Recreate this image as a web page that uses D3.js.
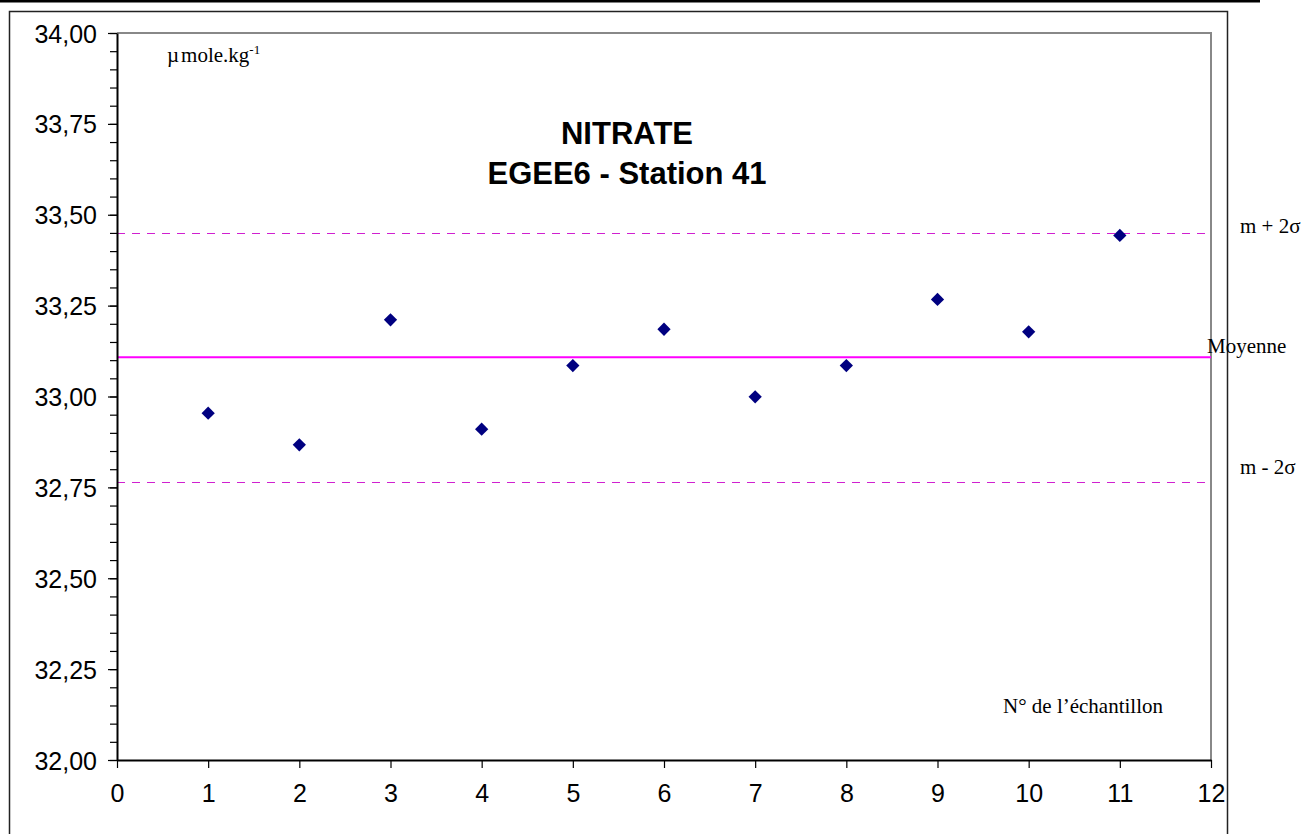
<!DOCTYPE html>
<html>
<head>
<meta charset="utf-8">
<script src="https://cdn.jsdelivr.net/npm/d3@7"></script>
<style>
  body { margin: 0; background: #fff; }
  svg { display: block; }
  .tick-label { font-family: Arial, "Liberation Sans", sans-serif; font-size: 25px; fill: #000; }
  .serif { font-family: "Times New Roman", "Liberation Serif", serif; font-size: 21px; fill: #000; }
</style>
</head>
<body>
<div id="chart"></div>
<script>
// sample numbers and nitrate values (µmole/kg)
const samples = [1, 2, 3, 4, 5, 6, 7, 8, 9, 10, 11];
const nitrate = [32.954, 32.867, 33.211, 32.910, 33.085, 33.185, 32.999, 33.085, 33.267, 33.178, 33.443];
// reference lines
const refValues = [33.450, 33.108, 32.766];
const refLabels = ["m + 2σ", "Moyenne", "m - 2σ"];
const xTicks = [0, 1, 2, 3, 4, 5, 6, 7, 8, 9, 10, 11, 12];
const yTicks = [32, 32.25, 32.5, 32.75, 33, 33.25, 33.5, 33.75, 34];
const titleLines = ["NITRATE", "EGEE6 - Station 41"];

const width = 1305;
const height = 834;
const margin = {top: 33, right: 94, bottom: 74, left: 117};

const frLocale = d3.formatLocale({decimal: ",", thousands: " ", grouping: [3], currency: ["", " €"]});
const fmtY = frLocale.format(".2f");

const svg = d3.select("#chart").append("svg")
    .attr("width", width)
    .attr("height", height);

const x = d3.scaleLinear()
    .domain([0, 12])
    .range([margin.left, width - margin.right]);

const y = d3.scaleLinear()
    .domain([32, 34])
    .range([height - margin.bottom, margin.top]);

// page decoration: top rule and outer frame
svg.append("line")
    .attr("x1", 0).attr("x2", 1260)
    .attr("y1", 1.2).attr("y2", 1.2)
    .attr("stroke", "#000")
    .attr("stroke-width", 2.5);

svg.append("path")
    .attr("d", "M9.5," + height + "V11.5H1227.5V" + height)
    .attr("fill", "none")
    .attr("stroke", "#222")
    .attr("stroke-width", 1.5);

// plot area frame (grey top/right)
svg.append("path")
    .attr("d", `M${x(0)},${y(34)}H${x(12)}V${y(32)}`)
    .attr("fill", "none")
    .attr("stroke", "#888")
    .attr("stroke-width", 2);

// reference lines
svg.selectAll(".ref-line")
    .data(refValues)
    .join("line")
    .attr("class", "ref-line")
    .attr("x1", x(0))
    .attr("x2", x(12))
    .attr("y1", (d, i) => i == 1 ? y(d) : Math.round(y(d)) + 0.5)
    .attr("y2", (d, i) => i == 1 ? y(d) : Math.round(y(d)) + 0.5)
    .attr("stroke", (d, i) => i == 1 ? "#ff00ff" : "#d020d0")
    .attr("stroke-width", (d, i) => i == 1 ? 2 : 1)
    .attr("stroke-dasharray", (d, i) => i == 1 ? null : "8,7")
    .attr("shape-rendering", (d, i) => i == 1 ? null : "crispEdges");

svg.selectAll(".ref-label")
    .data(refValues)
    .join("text")
    .attr("class", "ref-label serif")
    .attr("x", (d, i) => i == 1 ? 1207 : 1240)
    .attr("y", (d, i) => y(d) + [0, -4, -8][i])
    .text((d, i) => refLabels[i]);

// y axis with minor ticks
const yMinor = d3.range(32, 34.001, 0.05);
svg.append("g")
    .attr("transform", "translate(" + x(0) + ",0)")
    .call(d3.axisLeft(y).tickValues(yMinor).tickSize(7).tickFormat(""))
    .call(g => g.select(".domain").remove())
    .call(g => g.selectAll("line").attr("stroke-width", 1.2));

svg.append("g")
    .attr("transform", "translate(" + x(0) + ",0)")
    .call(d3.axisLeft(y).tickValues(yTicks).tickSize(9).tickSizeOuter(0).tickPadding(11).tickFormat(fmtY))
    .call(g => g.select(".domain").attr("stroke-width", 2))
    .call(g => g.selectAll("line").attr("stroke-width", 1.2))
    .call(g => g.selectAll("text").attr("class", "tick-label").attr("font-size", null).attr("font-family", null).attr("dy", "0.36em"));

// x axis
svg.append("g")
    .attr("transform", "translate(0," + y(32) + ")")
    .call(d3.axisBottom(x).tickValues(xTicks).tickSize(8).tickSizeOuter(0).tickPadding(16).tickFormat(d3.format("d")))
    .call(g => g.select(".domain").attr("stroke-width", 2))
    .call(g => g.selectAll("line").attr("stroke-width", 1.2))
    .call(g => g.selectAll("text").attr("class", "tick-label").attr("font-size", null).attr("font-family", null));

// data points: navy diamonds
svg.selectAll(".point")
    .data(nitrate)
    .join("path")
    .attr("class", "point")
    .attr("d", d3.symbol().type(d3.symbolDiamond2).size(112))
    .attr("transform", (d, i) => `translate(${x(samples[i])},${y(d)})`)
    .attr("fill", "#000080");

// title
svg.selectAll(".title")
    .data(titleLines)
    .join("text")
    .attr("class", "title")
    .attr("x", 627)
    .attr("y", (d, i) => 144 + i * 40)
    .attr("text-anchor", "middle")
    .style("font-family", "Arial, 'Liberation Sans', sans-serif")
    .style("font-weight", "bold")
    .style("font-size", "31px")
    .text(d => d);

// unit label
const unit = svg.append("text")
    .attr("class", "serif")
    .attr("x", 167)
    .attr("y", 62);
unit.append("tspan").text("µ");
unit.append("tspan").attr("dx", 2).text("mole.kg");
unit.append("tspan").attr("dy", -8).style("font-size", "13px").text("-1");

// axis name
svg.append("text")
    .attr("class", "serif")
    .attr("x", 1003)
    .attr("y", 713)
    .text("N° de l’échantillon");
</script>
</body>
</html>
